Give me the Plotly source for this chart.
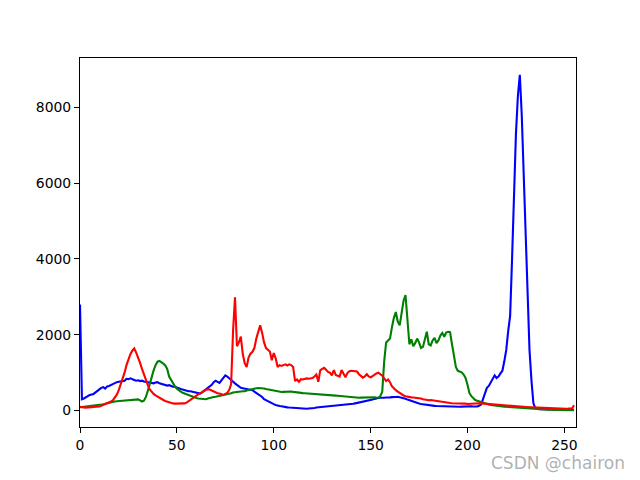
import plotly.graph_objects as go

bins = list(range(256))

blue_counts = [
    2800, 300, 320, 340, 380, 410, 420, 440, 480, 530,
    560, 600, 620, 580, 640, 650, 680, 690, 720, 750,
    760, 770, 780, 790, 840, 830, 850, 820, 810, 790,
    800, 780, 790, 770, 760, 750, 760, 730, 720, 740,
    750, 720, 700, 690, 680, 660, 670, 640, 630, 630,
    600, 590, 570, 550, 540, 530, 510, 510, 500, 490,
    470, 460, 450, 480, 520, 560, 600, 620, 680, 750,
    790, 760, 730, 800, 880, 930, 900, 850, 810, 760,
    720, 680, 630, 600, 590, 580, 575, 580, 570, 540,
    500, 470, 430, 400, 360, 300, 270, 240, 210, 190,
    170, 150, 130, 120, 115, 100, 95, 85, 80, 75,
    75, 70, 60, 55, 50, 55, 50, 50, 55, 55,
    60, 70, 80, 85, 95, 100, 105, 110, 115, 120,
    120, 125, 130, 135, 140, 135, 145, 150, 160, 165,
    170, 180, 190, 200, 215, 230, 240, 250, 260, 270,
    280, 290, 310, 330, 335, 340, 335, 340, 345, 340,
    350, 355, 350, 360, 365, 355, 340, 325, 310, 290,
    270, 250, 230, 215, 200, 185, 175, 165, 155, 145,
    140, 135, 130, 125, 120, 118, 112, 108, 104, 100,
    98, 96, 95, 97, 98, 98, 100, 105, 110, 112,
    118, 120, 115, 110, 105, 110, 130, 160, 300, 450,
    600, 650, 750, 850, 930, 860, 900, 980, 1050, 1300,
    1600, 2100, 2500, 4000, 5800, 7300, 8300, 8860, 7800, 6200,
    4200, 2800, 1600, 800, 200, 60, 45, 40, 38, 36,
    35, 34, 33, 32, 31, 30, 29, 28, 27, 26,
    25, 24, 23, 22, 21, 20,
]

green_counts = [
    90, 95, 100, 105, 110, 115, 120, 125, 130, 140,
    150, 160, 170, 185, 200, 210, 220, 230, 240, 245,
    250, 255, 258, 262, 265, 268, 270, 275, 280, 290,
    295, 270, 240, 260, 360, 520, 720, 900, 1060, 1200,
    1290, 1310, 1280, 1240, 1190, 1100, 900, 800, 700, 640,
    580, 530, 500, 470, 450, 420, 390, 370, 355, 340,
    330, 320, 315, 300, 290, 300, 320, 340, 350, 360,
    365, 375, 385, 395, 405, 415, 430, 445, 460, 480,
    490, 495, 500, 505, 510, 510, 530, 545, 560, 575,
    585, 590, 598, 600, 590, 585, 570, 560, 545, 535,
    520, 510, 500, 495, 490, 495, 500, 505, 510, 505,
    495, 485, 480, 470, 465, 462, 458, 455, 452, 450,
    448, 445, 440, 435, 432, 430, 425, 418, 412, 408,
    405, 400, 395, 390, 385, 380, 372, 365, 358, 350,
    342, 338, 336, 338, 340, 342, 345, 350, 355, 360,
    362, 358, 352, 345, 340, 380, 500, 1300, 1800, 1850,
    1900, 2200, 2450, 2600, 2350, 2250, 2600, 2900, 3050, 2300,
    1750, 1880, 1700, 1780, 1900, 1800, 1650, 1680, 1850, 2080,
    1750, 1720, 1850, 1920, 1780, 1850, 1980, 2050, 1950, 2060,
    2080, 2070, 1750, 1450, 1150, 1050, 1030, 1010, 950, 860,
    680, 460, 380, 320, 280, 260, 240, 220, 200, 185,
    170, 160, 150, 140, 132, 125, 118, 112, 108, 104,
    100, 95, 90, 85, 80, 75, 70, 65, 60, 56,
    52, 48, 45, 42, 40, 38, 36, 34, 32, 30,
    28, 26, 24, 22, 20, 19, 18, 17, 16, 15,
    14, 13, 12, 12, 11, 10,
]

red_counts = [
    100, 90, 85, 80, 85, 80, 90, 95, 95, 100,
    110, 130, 150, 165, 185, 210, 240, 275, 340, 420,
    540, 680, 820, 1000, 1200, 1380, 1490, 1580, 1640, 1530,
    1410, 1260, 1100, 940, 790, 670, 560, 490, 440, 400,
    365, 330, 305, 280, 255, 235, 215, 200, 190, 185,
    185, 185, 180, 185, 190, 210, 250, 290, 330, 370,
    400, 430, 455, 490, 530, 550, 560, 555, 530, 500,
    480, 460, 450, 430, 410, 440, 470, 540, 700, 2100,
    2990, 1700, 1800, 1950, 1500, 1250, 1150, 1400, 1500, 1550,
    1650, 1900, 2100, 2250, 2050, 1800, 1650, 1600, 1560, 1330,
    1520, 1380, 1150, 1200, 1180, 1200, 1220, 1190, 1220, 1200,
    1150, 780, 820, 760, 830, 820, 840, 850, 840, 850,
    860, 900, 950, 760, 1060, 1100, 1130, 1080, 1020, 1000,
    930, 1070, 940, 920, 900, 1070, 960, 880, 990, 1040,
    1050, 1050, 1040, 1030, 960, 920, 870, 900, 960, 900,
    880, 910, 950, 980, 1000, 960, 920, 850, 780, 820,
    750, 640, 580, 540, 500, 460, 430, 400, 380, 365,
    360, 350, 345, 340, 345, 340, 320, 300, 285, 280,
    275, 280, 270, 265, 260, 258, 250, 240, 230, 220,
    205, 200, 195, 195, 190, 188, 185, 182, 180, 185,
    175, 180, 190, 200, 205, 200, 195, 190, 185, 180,
    175, 170, 165, 160, 155, 150, 148, 145, 142, 140,
    135, 130, 125, 120, 118, 115, 110, 105, 100, 98,
    95, 92, 88, 85, 82, 80, 80, 78, 78, 75,
    72, 70, 68, 65, 62, 60, 58, 55, 52, 50,
    48, 50, 52, 55, 60, 140,
]

x_ticks = [0, 50, 100, 150, 200, 250]
y_ticks = [0, 2000, 4000, 6000, 8000]

series = [("blue", blue_counts, "#0000ff"),
          ("green", green_counts, "#008000"),
          ("red", red_counts, "#ff0000")]

fig = go.Figure()
for name, vals, col in series:
    fig.add_trace(go.Scatter(x=bins[:len(vals)], y=vals, mode="lines", name=name,
                             line=dict(color=col, width=2.1)))

ymax = max(max(v) for _, v, _ in series)
ymin = min(min(v) for _, v, _ in series)
pad = 0.05 * (ymax - ymin)

axis_common = dict(showgrid=False, zeroline=False, showline=True, mirror=True,
                   linecolor="black", linewidth=1.1, ticks="outside", ticklen=5,
                   tickwidth=1.1, tickcolor="black",
                   tickfont=dict(family="DejaVu Sans", size=13.9, color="black"))

fig.update_xaxes(range=[0, 256], tickvals=x_ticks, ticktext=[str(t) for t in x_ticks],
                 **axis_common)
fig.update_yaxes(range=[ymin - pad, ymax + pad], tickvals=y_ticks,
                 ticktext=[str(t) for t in y_ticks], **axis_common)

fig.add_annotation(text="CSDN @chairon", xref="paper", yref="paper",
                   x=1.103, y=-0.097, xanchor="right", yanchor="middle",
                   showarrow=False,
                   font=dict(family="DejaVu Sans", size=17, color="rgba(150,150,150,0.75)"))

fig.update_layout(width=640, height=480, showlegend=False,
                  paper_bgcolor="white", plot_bgcolor="white",
                  margin=dict(l=72, r=72, t=50, b=61))

fig.write_html("out.html")
